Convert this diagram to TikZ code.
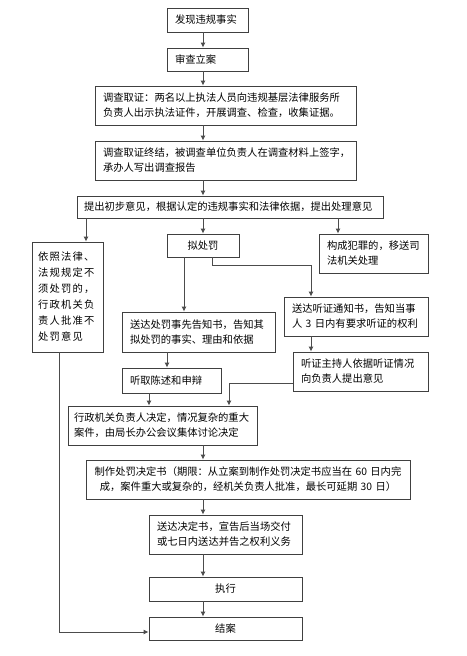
\documentclass[tikz,border=0pt]{standalone}
\usepackage{fontspec}
\setmainfont{Noto Sans CJK SC}
\usetikzlibrary{arrows.meta}
\tikzset{
  box/.style={draw=black!75, line width=0.8pt, inner ysep=0pt, inner xsep=8pt,
    align=left, font=\fontsize{10.3}{15}\selectfont},
  cbox/.style={box, align=center},
  conn/.style={draw=black!70, line width=1pt, -{Latex[length=5pt,width=5pt]}},
  plain/.style={draw=black!70, line width=1pt}
}
\begin{document}
\begin{tikzpicture}[x=1pt,y=-1pt]
\useasboundingbox (0,0) rectangle (466,656);
\fill[white] (0,0) rectangle (466,656);
% boxes
\node[box, text width=65pt, minimum height=24pt] (b1) at (207.5,20) {发现违规事实};
\node[box, text width=65pt, minimum height=23pt] (b2) at (207.5,59.5) {审查立案};
\node[box, text width=245pt, minimum height=39pt] (b3) at (225.5,105.5) {调查取证：两名以上执法人员向违规基层法律服务所\\负责人出示执法证件，开展调查、检查，收集证据。};
\node[box, text width=245pt, minimum height=39pt] (b4) at (225.5,160.5) {调查取证终结，被调查单位负责人在调查材料上签字，\\承办人写出调查报告};
\node[box, inner xsep=7pt, text width=292pt, minimum height=22pt] (b5) at (230,207) {提出初步意见，根据认定的违规事实和法律依据，提出处理意见};
\node[box, inner xsep=6pt, text width=59pt, minimum height=110pt, font=\fontsize{10.3}{16}\selectfont\addfontfeature{LetterSpace=12}] (bL) at (67.5,297) {依照法律、\\法规规定不\\须处罚的，\\行政机关负\\责人批准不\\处罚意见};
\node[cbox, text width=56pt, minimum height=23pt] (bP) at (203,245.5) {拟处罚};
\node[box, text width=93pt, minimum height=39pt] (bC) at (373.5,253.5) {构成犯罪的，移送司\\法机关处理};
\node[box, text width=137pt, minimum height=40pt] (bN) at (198.5,332) {送达处罚事先告知书，告知其\\拟处罚的事实、理由和依据};
\node[box, text width=128pt, minimum height=39pt] (bH) at (356,316.5) {送达听证通知书，告知当事\\人 3 日内有要求听证的权利};
\node[box, text width=119pt, minimum height=39pt] (bZ) at (360.5,371.5) {听证主持人依据听证情况\\向负责人提出意见};
\node[box, text width=83pt, minimum height=25pt] (bS) at (171.5,380.5) {听取陈述和申辩};
\node[box, inner xsep=6pt, text width=177pt, minimum height=39pt] (bD) at (162.5,425.5) {行政机关负责人决定，情况复杂的重大\\案件，由局长办公会议集体讨论决定};
\node[cbox, inner xsep=3pt, text width=318pt, minimum height=39pt] (bM) at (248,479.5) {制作处罚决定书（期限：从立案到制作处罚决定书应当在 60 日内完\\成，案件重大或复杂的，经机关负责人批准，最长可延期 30 日）};
\node[box, text width=137pt, minimum height=39pt] (bSD) at (225.5,534.5) {送达决定书，宣告后当场交付\\或七日内送达并告之权利义务};
\node[cbox, text width=137pt, minimum height=24pt] (bE) at (225.5,589) {执行};
\node[cbox, text width=137pt, minimum height=23pt] (bJ) at (225.5,628.5) {结案};
% column coordinates
\coordinate (c203) at (203,0);
\coordinate (c86) at (86,0);
\coordinate (c338) at (338,0);
\coordinate (c184) at (184,0);
\coordinate (c212) at (212,0);
\coordinate (c311) at (311,0);
\coordinate (c167) at (167,0);
\coordinate (c149) at (149,0);
\coordinate (c229) at (229,0);
\coordinate (c59) at (59,0);
\coordinate (r265) at (0,265);
\coordinate (r383) at (0,383);
\coordinate (r632) at (0,632);
% connectors
\draw[conn] (c203 |- b1.south) -- (c203 |- b2.north);
\draw[conn] (c203 |- b2.south) -- (c203 |- b3.north);
\draw[conn] (c203 |- b3.south) -- (c203 |- b4.north);
\draw[conn] (c203 |- b4.south) -- (c203 |- b5.north);
\draw[conn] (c86 |- b5.south) -- (c86 |- bL.north);
\draw[conn] (c203 |- b5.south) -- (c203 |- bP.north);
\draw[conn] (c338 |- b5.south) -- (c338 |- bC.north);
\draw[conn] (c184 |- bP.south) -- (c184 |- bN.north);
\draw[conn] (c212 |- bP.south) -- (c212 |- r265) -- (c311 |- r265) -- (c311 |- bH.north);
\draw[conn] (c311 |- bH.south) -- (c311 |- bZ.north);
\draw[conn] (c167 |- bN.south) -- (c167 |- bS.north);
\draw[conn] (c149 |- bS.south) -- (c149 |- bD.north);
\draw[conn] (bZ.west |- r383) -- (c229 |- r383) -- (c229 |- bD.north);
\draw[conn] (c203 |- bD.south) -- (c203 |- bM.north);
\draw[conn] (c203 |- bM.south) -- (c203 |- bSD.north);
\draw[conn] (c203 |- bSD.south) -- (c203 |- bE.north);
\draw[conn] (c203 |- bE.south) -- (c203 |- bJ.north);
\draw[conn] (c59 |- bL.south) -- (c59 |- r632) -- (bJ.west |- r632);
\end{tikzpicture}
\end{document}
